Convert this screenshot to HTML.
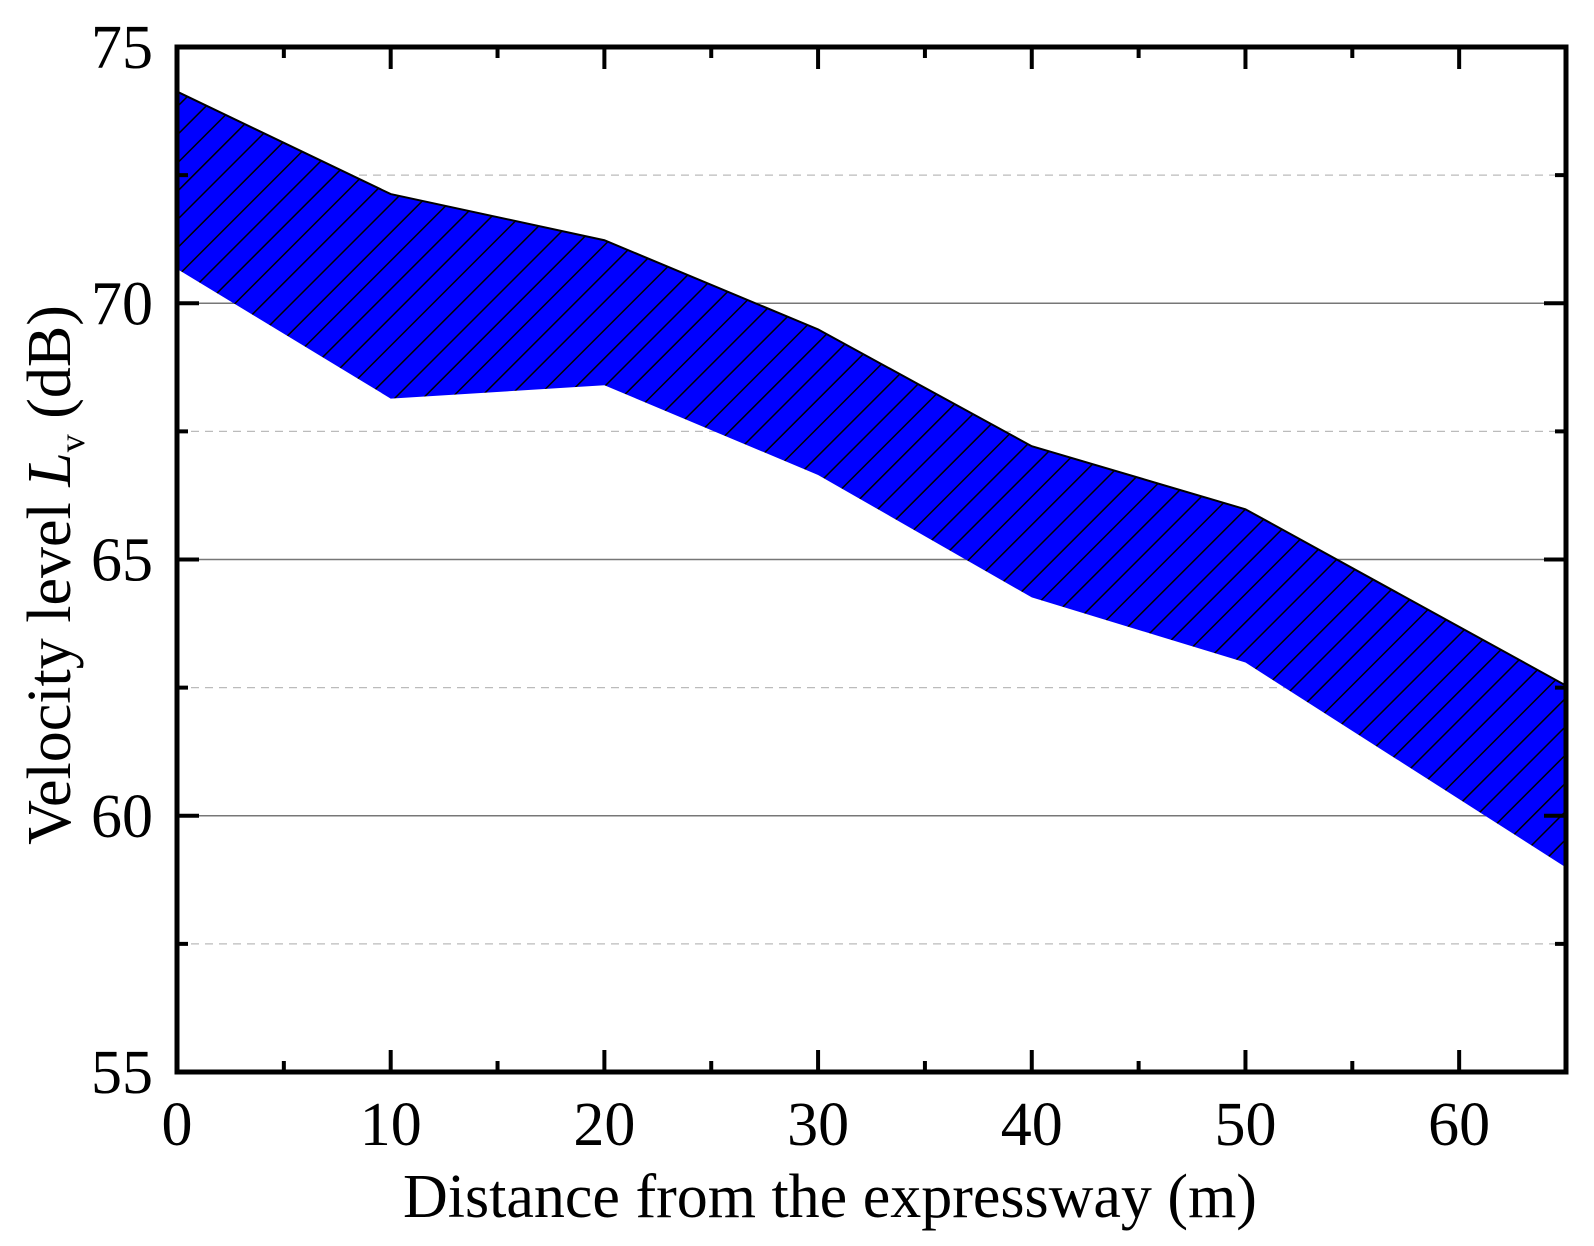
<!DOCTYPE html>
<html><head><meta charset="utf-8"><style>
html,body{margin:0;padding:0;background:#fff;}
svg{display:block;font-family:"Liberation Serif","Times New Roman",serif;}
</style></head><body>
<svg id="chart" width="1594" height="1246" viewBox="0 0 1594 1246" xmlns="http://www.w3.org/2000/svg">
<defs>
<pattern id="hatch" patternUnits="userSpaceOnUse" width="20" height="20" patternTransform="rotate(45)">
<rect width="20" height="20" fill="#0000ff"/>
<line x1="0" y1="0" x2="0" y2="20" stroke="#000" stroke-width="3"/>
</pattern>
</defs>
<g id="grid"></g>
<g id="band"></g>
<g id="axes"></g>
<text x="830" y="1217" font-size="62" text-anchor="middle">Distance from the expressway (m)</text>
<text transform="translate(70,575) rotate(-90)" font-size="62" text-anchor="middle">Velocity level <tspan font-style="italic">L</tspan><tspan font-size="36" dy="14">v</tspan><tspan dy="-14"> (dB)</tspan></text>
</svg>
<script>
const distances=[0,10,20,30,40,50,65];
const upperValues=[74.13,72.13,71.23,69.49,67.21,65.98,62.54];
const lowerValues=[70.67,68.14,68.40,66.65,64.26,62.99,58.99];
const xTicks=[0,10,20,30,40,50,60];
const yTicks=[55,60,65,70,75];

const L=177,R=1566,T=47,B=1072,xMin=0,xMax=65,yMin=55,yMax=75;
const xs=v=>L+(v-xMin)/(xMax-xMin)*(R-L);
const ys=v=>B-(v-yMin)/(yMax-yMin)*(B-T);
const NS='http://www.w3.org/2000/svg';
function mk(tag,attrs,parent){const e=document.createElementNS(NS,tag);for(const k in attrs)e.setAttribute(k,attrs[k]);parent.appendChild(e);return e;}
const grid=document.getElementById('grid'),band=document.getElementById('band'),axes=document.getElementById('axes');

for(let v=yMin+2.5;v<yMax;v+=2.5){
  const major=Math.abs(v%5)<1e-9;
  const g=mk('line',{x1:L,x2:R,y1:ys(v),y2:ys(v),stroke:major?'#777':'#bbb','stroke-width':major?1.5:1.2,'stroke-dasharray':major?'none':'8 6'},grid);
  
  
}

let d='M'+distances.map((x,i)=>xs(x)+','+ys(upperValues[i])).join(' L');
for(let i=distances.length-1;i>=0;i--) d+=' L'+xs(distances[i])+','+ys(lowerValues[i]);
d+=' Z';
const area=mk('path',{d:d,fill:'url(#hatch)',stroke:'none'},band);


const up=mk('polyline',{points:distances.map((x,i)=>xs(x)+','+ys(upperValues[i])).join(' '),fill:'none',stroke:'#000','stroke-width':2},band);



const fr=mk('rect',{x:L,y:T,width:R-L,height:B-T,fill:'none',stroke:'#000','stroke-width':5},axes);



for(let v=0;v<=65;v+=5){
  const major=v%10===0,len=major?22:11,x=xs(v);
  const t1=mk('line',{x1:x,x2:x,y1:B,y2:B-len,stroke:'#000','stroke-width':4},axes);
  
  
  const t2=mk('line',{x1:x,x2:x,y1:T,y2:T+len,stroke:'#000','stroke-width':4},axes);
  
  
}
xTicks.forEach(v=>{
  const t=mk('text',{x:xs(v),y:1145,'font-size':62,'text-anchor':'middle'},axes);
  t.textContent=v;
  
  
});
for(let v=yMin;v<=yMax;v+=2.5){
  const major=Math.abs(v%5)<1e-9,len=major?22:11,y=ys(v);
  const t1=mk('line',{x1:L,x2:L+len,y1:y,y2:y,stroke:'#000','stroke-width':4},axes);
  
  
  const t2=mk('line',{x1:R,x2:R-len,y1:y,y2:y,stroke:'#000','stroke-width':4},axes);
  
  
}
yTicks.forEach(v=>{
  const t=mk('text',{x:153,y:ys(v)+21,'font-size':62,'text-anchor':'end'},axes);
  t.textContent=v;
  
  
});
</script>
</body></html>
